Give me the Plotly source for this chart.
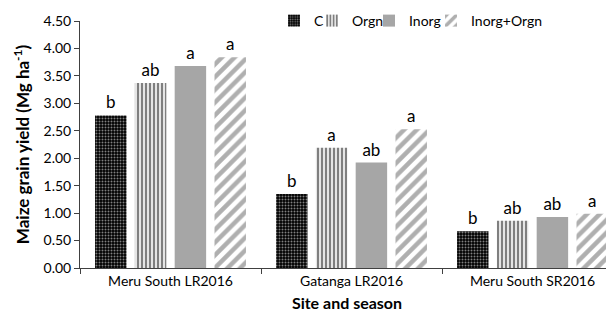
import plotly.graph_objects as go

sites = ["Meru South LR2016", "Gatanga LR2016", "Meru South SR2016"]
treatments = ["C", "Orgn", "Inorg", "Inorg+Orgn"]
yield_C = [2.78, 1.35, 0.67]
yield_Orgn = [3.37, 2.19, 0.86]
yield_Inorg = [3.68, 1.92, 0.93]
yield_InorgOrgn = [3.84, 2.53, 0.99]
letters_C = ["b", "b", "b"]
letters_Orgn = ["ab", "a", "ab"]
letters_Inorg = ["a", "ab", "ab"]
letters_InorgOrgn = ["a", "a", "a"]
y_ticks = [0, 0.5, 1.0, 1.5, 2.0, 2.5, 3.0, 3.5, 4.0, 4.5]

FONT = "Lato, Open Sans, sans-serif"
# the page body has an 8px margin, so the figure is 8px smaller than the window
W, H = 606, 312
L, R, T, B = 72, 0, 13, 52
PW = W - L - R
CAT_PX = 181

# legend text start positions (figure px)
legend_text_px = [306, 344, 401, 463]
legend_ids = ["legend", "legend2", "legend3", "legend4"]

series = [
    (treatments[0], yield_C, letters_C,
     dict(color="black", pattern=dict(shape=".", bgcolor="black", fgcolor="white", size=3, solidity=0.35))),
    (treatments[1], yield_Orgn, letters_Orgn,
     dict(color="black", pattern=dict(shape="|", bgcolor="white", fgcolor="black", size=4, solidity=0.6))),
    (treatments[2], yield_Inorg, letters_Inorg,
     dict(color="#a6a6a6")),
    (treatments[3], yield_InorgOrgn, letters_InorgOrgn,
     dict(color="#5f5f5f", pattern=dict(shape="/", bgcolor="white", fgcolor="#5f5f5f", size=9, solidity=0.5))),
]

fig = go.Figure()
for (name, vals, lets, marker), lid in zip(series, legend_ids):
    fig.add_trace(go.Bar(
        name=name, x=sites, y=vals, text=lets, textposition="outside",
        textfont=dict(size=17, color="black", family=FONT),
        marker=dict(line=dict(width=0), **marker),
        cliponaxis=False, legend=lid,
    ))

legends = {}
for lid, tx in zip(legend_ids, legend_text_px):
    legends[lid] = dict(
        orientation="h", x=(tx - 40 - L) / PW, y=1.0,
        xanchor="left", yanchor="middle", font=dict(size=14),
        itemwidth=30, bgcolor="rgba(0,0,0,0)", borderwidth=0,
    )

fig.update_layout(
    width=W, height=H,
    margin=dict(l=L, r=R, t=T, b=B, autoexpand=False),
    paper_bgcolor="white", plot_bgcolor="white",
    barmode="group", bargap=0.12, bargroupgap=0.21,
    font=dict(family=FONT, size=14, color="black"),
    showlegend=True,
    **legends,
)
fig.update_yaxes(
    range=[0, 4.5], tickvals=y_ticks, tickformat=".2f",
    showline=True, linecolor="#404040", linewidth=1,
    ticks="outside", ticklen=5, tickcolor="#404040",
    showgrid=False, zeroline=False, automargin=False,
    tickfont=dict(size=14),
    title=dict(text="<b>Maize grain yield (Mg ha<sup>-1</sup>)</b>", font=dict(size=17), standoff=9),
)
fig.update_xaxes(
    range=[-0.5, -0.5 + PW / CAT_PX],
    showline=True, linecolor="#404040", linewidth=1,
    ticks="outside", tickson="boundaries", ticklen=5, tickcolor="#404040",
    showgrid=False, automargin=False,
    tickfont=dict(size=14),
    title=dict(text="<b>Site and season</b>", font=dict(size=16), standoff=10),
)

fig.write_html("out.html")
